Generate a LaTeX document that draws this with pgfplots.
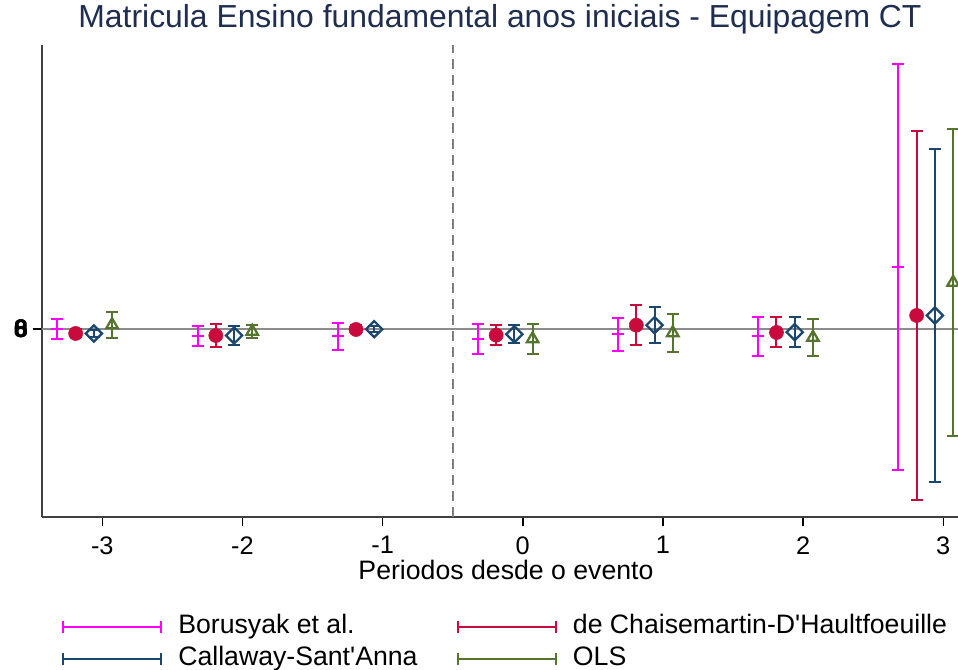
\documentclass[border=0pt]{standalone}
\usepackage{pgfplots}
\pgfplotsset{compat=1.18}
\usepackage{pgfplotstable}
\usepackage{fontspec}
\setmainfont{Liberation Sans}
\definecolor{cbor}{RGB}{255,0,255}
\definecolor{cdch}{RGB}{200,10,60}
\definecolor{ccs}{RGB}{26,71,111}
\definecolor{cols}{RGB}{85,117,47}
\definecolor{ctitle}{RGB}{30,45,80}
\definecolor{cref}{RGB}{140,140,140}
\newcommand\legimg[1]{%
  \draw[#1, line width=1.5pt] (0pt,0pt) -- (73.5pt,0pt);
  \draw[#1, line width=1.5pt] (0pt,-4.5pt) -- (0pt,4.5pt);
  \draw[#1, line width=1.5pt] (73.5pt,-4.5pt) -- (73.5pt,4.5pt);}
\pgfplotstableread{
x y e
-3.32 0.003 0.100
-2.32 -0.067 0.103
-1.32 -0.073 0.137
-0.32 -0.097 0.153
0.68 -0.053 0.163
1.68 -0.073 0.197
2.68 0.623 2.027
}\bor
\pgfplotstableread{
x y e
-3.19 -0.043 0.040
-2.19 -0.063 0.113
-1.19 -0.003 0.040
-0.19 -0.060 0.103
0.81 0.040 0.203
1.81 -0.033 0.150
2.81 0.137 1.840
}\dch
\pgfplotstableread{
x y e
-3.06 -0.043 0.035
-2.06 -0.063 0.093
-1.06 0.000 0.030
-0.06 -0.050 0.087
0.94 0.040 0.183
1.94 -0.030 0.147
2.94 0.137 1.667
}\cs
\pgfplotstableread{
x y e
-2.93 0.043 0.127
-1.93 -0.023 0.067
0.07 -0.097 0.147
1.07 -0.037 0.187
2.07 -0.083 0.187
3.07 0.467 1.537
}\ols
\begin{document}
\begin{tikzpicture}
\begin{axis}[
  scale only axis, width=687pt, height=354pt,
  xmin=-3.43, xmax=3.105, ymin=-1.877, ymax=2.84,
  axis x line*=bottom, axis y line*=left,
  axis line style={line width=1.1pt, black!75},
  xtick={-3,-2,-1,0,1,2,3},
  xticklabels={-3,-2,-1,0,1,2,3},
  ytick={0}, yticklabels={\textbf{\rlap{0}\rlap{6}8}},
  tick align=outside, major tick length=7pt,
  tick style={line width=1.1pt, black},
  ticklabel style={font=\fontsize{19}{22}\selectfont},
  xticklabel style={yshift=-4pt},
  title={Matricula Ensino fundamental anos iniciais - Equipagem CT},
  title style={at={(0.5,1)}, anchor=base, yshift=6.75pt, font=\fontsize{23.9}{28}\selectfont, color=ctitle},
  xlabel={Periodos desde o evento},
  xlabel style={at={(axis description cs:0.5,0)}, anchor=base, yshift=-47pt, xshift=4.5pt, font=\fontsize{20}{24}\selectfont},
  legend columns=2,
  legend cell align=left,
  legend style={draw=none, fill=none, at={(0,0)}, anchor=north west, xshift=12pt, yshift=-71.5pt,
    font=\fontsize{20}{24}\selectfont, column sep=12pt, row sep=6pt,
    nodes={inner sep=0pt, text height=14pt, text depth=4pt}},
  clip=false,
]
\draw[cref, line width=1.5pt] (axis cs:-3.43,0) -- (axis cs:3.105,0);
\draw[black!50, line width=1.5pt, dash pattern=on 7.5pt off 4.5pt] (axis cs:-0.5,-1.877) -- (axis cs:-0.5,2.84);
\addplot[cbor, line width=1.5pt, mark=-, mark size=4.5pt, only marks,
  legend image code/.code={\legimg{cbor}},
  error bars/.cd, y dir=both, y explicit,
  error bar style={line width=1.5pt, cbor},
  error mark options={line width=1.5pt, mark size=4.5pt, cbor, rotate=90}]
  table[x=x, y=y, y error=e] {\bor};
\addplot[cdch, mark=*, mark size=5.3pt, only marks,
  legend image code/.code={\legimg{cdch}},
  error bars/.cd, y dir=both, y explicit,
  error bar style={line width=1.5pt, cdch},
  error mark options={line width=1.5pt, mark size=4.5pt, cdch, rotate=90}]
  table[x=x, y=y, y error=e] {\dch};
\addplot[ccs, mark=square, mark size=4.3pt, mark options={rotate=45, line width=1.7pt, fill=white}, only marks,
  legend image code/.code={\legimg{ccs}},
  error bars/.cd, y dir=both, y explicit,
  error bar style={line width=1.5pt, ccs},
  error mark options={line width=1.5pt, mark size=4.5pt, ccs, rotate=90}]
  table[x=x, y=y, y error=e] {\cs};
\addplot[cols, mark=triangle, mark size=5pt, mark options={line width=1.7pt, fill=white}, only marks,
  legend image code/.code={\legimg{cols}},
  error bars/.cd, y dir=both, y explicit,
  error bar style={line width=1.5pt, cols},
  error mark options={line width=1.5pt, mark size=4.5pt, cols, rotate=90}]
  table[x=x, y=y, y error=e] {\ols};
\legend{\makebox[197pt][l]{Borusyak et al.}, de Chaisemartin-D\textquotesingle Haultfoeuille, \makebox[197pt][l]{Callaway-Sant\textquotesingle Anna}, OLS}
\end{axis}
\pgfresetboundingbox
\path ([xshift=-31.5pt,yshift=-114.75pt]current axis.south west) rectangle ([yshift=33.75pt]current axis.north east);
\end{tikzpicture}
\end{document}
